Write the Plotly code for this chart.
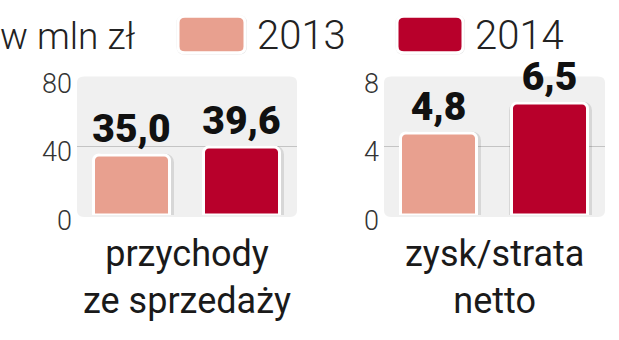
import plotly.graph_objects as go

# ---- data ----
years = ["2013", "2014"]
panel_labels = ["przychody<br>ze sprzedaży", "zysk/strata<br>netto"]
revenue = [35.0, 39.6]
net_profit = [4.8, 6.5]
rev_ticks = [0, 40, 80]
np_ticks = [0, 4, 8]
unit_label = "w mln zł"
colors = ["#e8a08f", "#b8002b"]

W, H = 619, 340
xdom1 = [77 / W, 297 / W]
xdom2 = [384 / W, 605 / W]
ydom = [(H - 226) / H, (H - 74) / H]

fig = go.Figure()

for vals, xa, ya in [(revenue, "x", "y"), (net_profit, "x2", "y2")]:
    fig.add_trace(go.Bar(
        x=[0, 1], y=vals, xaxis=xa, yaxis=ya, width=0.72, offset=-0.35,
        marker=dict(color="rgba(0,0,0,0)", line=dict(color="rgba(0,0,0,0.10)", width=3),
                    cornerradius=8),
        showlegend=False, hoverinfo="skip",
    ))
    fig.add_trace(go.Bar(
        x=[0, 1], y=vals, xaxis=xa, yaxis=ya,
        width=0.69,
        marker=dict(color=colors, line=dict(color="white", width=3), cornerradius=6),
        texttemplate="%{y:.1f}", textposition="outside", constraintext="none",
        textfont=dict(family="Roboto", size=39, weight=900, color="#111111"),
        cliponaxis=False, showlegend=False, hoverinfo="skip",
    ))


def rrect(x0, y0, x1, y1, r):
    def px(x):
        return x / W

    def py(y):
        return (H - y) / H
    return (f"M {px(x0 + r)},{py(y0)} L {px(x1 - r)},{py(y0)} Q {px(x1)},{py(y0)} {px(x1)},{py(y0 + r)} "
            f"L {px(x1)},{py(y1 - r)} Q {px(x1)},{py(y1)} {px(x1 - r)},{py(y1)} "
            f"L {px(x0 + r)},{py(y1)} Q {px(x0)},{py(y1)} {px(x0)},{py(y1 - r)} "
            f"L {px(x0)},{py(y0 + r)} Q {px(x0)},{py(y0)} {px(x0 + r)},{py(y0)} Z")


shapes = []
for xd in (xdom1, xdom2):
    shapes.append(dict(type="path", xref="paper", yref="paper", layer="below",
                       path=rrect(xd[0] * W, 74, xd[1] * W, 228, 7),
                       fillcolor="#f0f0f0", line=dict(width=0)))
for (x0, x1), c in zip([(178, 245), (397, 463)], colors):
    shapes.append(dict(type="path", xref="paper", yref="paper",
                       path=rrect(x0 - 1.5, 6.5, x1 + 2, 50, 9),
                       fillcolor="#e4e4e4", line=dict(width=0)))
    shapes.append(dict(type="path", xref="paper", yref="paper",
                       path=rrect(x0, 8, x1, 48, 7),
                       fillcolor=c, line=dict(color="white", width=3)))

annotations = []
annotations.append(dict(text=unit_label, xref="paper", yref="paper", x=-0.003, y=1 - 30 / H,
                        xanchor="left", yanchor="middle", showarrow=False,
                        font=dict(family="Roboto", size=37, weight=300, color="#222")))
for yr, xl in zip(years, [255, 473]):
    annotations.append(dict(text=yr, xref="paper", yref="paper", x=xl / W, y=1 - 29 / H,
                            xanchor="left", yanchor="middle", showarrow=False,
                            font=dict(family="Roboto", size=40, weight=300, color="#222")))
for lab, xd in zip(panel_labels, (xdom1, xdom2)):
    annotations.append(dict(text=lab, xref="paper", yref="paper", x=(xd[0] + xd[1]) / 2,
                            y=1 - 244 / H, xanchor="center", yanchor="top", showarrow=False,
                            font=dict(family="Roboto", size=36, weight=400, color="#1a1a1a")))

axis_font = dict(family="Roboto", size=27, weight=300, color="#333")
common_y = dict(showgrid=False, zeroline=False, showline=False, ticks="",
                tickfont=axis_font, ticklabelstandoff=4, ticklabelshift=5,
                domain=ydom, tickmode="array")
common_x = dict(showgrid=False, zeroline=False, showline=False, showticklabels=False,
                range=[-0.5, 1.5], fixedrange=True)

fig.update_layout(
    width=W, height=H, margin=dict(l=0, r=0, t=0, b=0),
    paper_bgcolor="white", plot_bgcolor="rgba(0,0,0,0)",
    separators=",.",
    barmode="overlay",
    xaxis=dict(domain=xdom1, **common_x),
    xaxis2=dict(domain=xdom2, **common_x),
    yaxis=dict(range=[0, 81.07], tickvals=rev_ticks, ticktext=[str(t) for t in rev_ticks],
               minor=dict(tickmode="array", tickvals=[40], showgrid=True, gridcolor="#c4c4c4",
                          gridwidth=1, ticks=""),
               anchor="x", **common_y),
    yaxis2=dict(range=[0, 8.107], tickvals=np_ticks, ticktext=[str(t) for t in np_ticks],
                minor=dict(tickmode="array", tickvals=[4], showgrid=True, gridcolor="#c4c4c4",
                           gridwidth=1, ticks=""),
                anchor="x2", **common_y),
    shapes=shapes, annotations=annotations,
    bargap=0,
)

fig.write_html("out.html")
